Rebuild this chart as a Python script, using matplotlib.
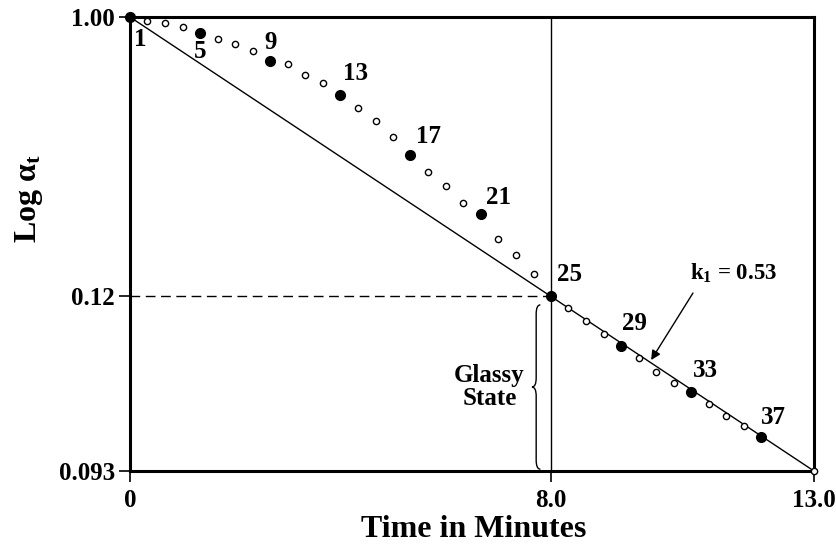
import numpy as np
import matplotlib.pyplot as plt
from matplotlib.path import Path
from matplotlib.patches import PathPatch

# time (minutes) of the numbered points 1..37
t = [0.00, 0.33, 0.67, 1.00, 1.33, 1.67, 2.00, 2.33, 2.67, 3.00,
     3.33, 3.67, 4.00, 4.33, 4.67, 5.00, 5.33, 5.67, 6.00, 6.33,
     6.67, 7.00, 7.33, 7.67, 8.00, 8.33, 8.67, 9.00, 9.33, 9.67,
     10.00, 10.33, 10.67, 11.00, 11.33, 11.67, 12.00]
# position on the (schematic) log axis, 1 = top, 0 = bottom
v = [1.000, 0.991, 0.987, 0.978, 0.965, 0.952, 0.941, 0.925, 0.903, 0.896,
     0.872, 0.855, 0.828, 0.800, 0.771, 0.736, 0.696, 0.659, 0.628, 0.590,
     0.566, 0.511, 0.476, 0.434, 0.385, 0.359, 0.330, 0.302, 0.275, 0.249,
     0.218, 0.194, 0.174, 0.148, 0.121, 0.099, 0.075]
num = list(range(1, 38))
labelled = [1, 5, 9, 13, 17, 21, 25, 29, 33, 37]
# label offsets in pixels
lab_dx = [10, 0, 0, 15, 18, 18, 19, 14, 14, 12]
lab_dy = [-22, -19, 19, 22, 19, 17, 22, 23, 22, 19]

end_t, end_v = 13.0, 0.0
fit_t = [0.0, 13.0]
fit_v = [1.0, 0.0]
tg, vg = 8.0, 0.385

yticks = [1.0, 0.385, 0.0]
ylabels = ['1.00', '0.12', '0.093']
xticks = [0, 8.0, 13.0]
xlabels = ['0', '8.0', '13.0']

plt.rcParams['font.family'] = ['Liberation Serif', 'DejaVu Serif']
plt.rcParams['font.weight'] = 'bold'
plt.rcParams['mathtext.fontset'] = 'custom'
plt.rcParams['mathtext.rm'] = 'Liberation Serif:bold'
plt.rcParams['mathtext.it'] = 'Liberation Serif:bold'
plt.rcParams['mathtext.bf'] = 'Liberation Serif:bold'

fig = plt.figure(figsize=(8.37, 5.47), dpi=100)
ax = fig.add_axes([0.1553, 0.1389, 0.8172, 0.83])

ax.plot(fit_t, fit_v, color='black', lw=1.0, zorder=2)
ax.plot([0, tg], [vg, vg], color='black', lw=1.0, dashes=(7, 4), zorder=2)
ax.axvline(tg, color='black', lw=1.0, zorder=2)

filled = [n in labelled for n in num]
tf = [a for a, f in zip(t, filled) if f]
vf = [b for b, f in zip(v, filled) if f]
to = [a for a, f in zip(t, filled) if not f] + [end_t]
vo = [b for b, f in zip(v, filled) if not f] + [end_v]
ax.plot(to, vo, 'o', ms=4.5, mfc='white', mec='black', mew=1.0,
        clip_on=False, zorder=4)
ax.plot(tf, vf, 'o', ms=7, color='black', clip_on=False, zorder=5)

for n, dx, dy in zip(labelled, lab_dx, lab_dy):
    i = num.index(n)
    ax.annotate(str(n), (t[i], v[i]), xytext=(dx, dy),
                textcoords='offset pixels', ha='center', va='center',
                fontsize=18, fontweight='bold')

# curly brace for the glassy state
def brace(x, y0, y1, w, d):
    ym = (y0 + y1) / 2
    xs = x - w / 2
    xt = x - w
    verts = [(x, y1), (xs, y1), (xs, y1 - d),
             (xs, ym + d),
             (xs, ym), (xt, ym),
             (xs, ym), (xs, ym - d),
             (xs, y0 + d),
             (xs, y0), (x, y0)]
    codes = [Path.MOVETO, Path.CURVE3, Path.CURVE3,
             Path.LINETO,
             Path.CURVE3, Path.CURVE3,
             Path.CURVE3, Path.CURVE3,
             Path.LINETO,
             Path.CURVE3, Path.CURVE3]
    ax.add_patch(PathPatch(Path(verts, codes), fill=False, lw=1.0,
                           color='black', zorder=3))

brace(7.80, 0.004, 0.366, 0.16, 0.02)
ax.text(6.83, 0.185, 'Glassy\nState', ha='center', va='center',
        fontsize=18, fontweight='bold', linespacing=0.95)

ax.annotate('', xy=(9.905, 0.2445), xytext=(10.70, 0.392),
            arrowprops=dict(arrowstyle='-|>', color='black', lw=1.0,
                            mutation_scale=14, shrinkA=0, shrinkB=0))
ax.text(11.48, 0.436, r'k$_1$ = 0.53', ha='center', va='center',
        fontsize=16.5, fontweight='bold')

ax.set_xlim(0, 13)
ax.set_ylim(0, 1)
ax.set_xticks(xticks)
ax.set_xticklabels(xlabels)
ax.set_yticks(yticks)
ax.set_yticklabels(ylabels)
ax.tick_params(direction='out', length=8, width=1.2, labelsize=18)
ax.tick_params(axis='y', pad=3)
ax.tick_params(axis='x', pad=5)
for s in ax.spines.values():
    s.set_linewidth(2.2)

fig.text(474 / 837, 1 - 537 / 547, 'Time in Minutes', ha='center',
         va='baseline', fontsize=23, fontweight='bold')
fig.text(29 / 837, 1 - 199 / 547, r'Log $\alpha_\mathrm{t}$', ha='center',
         va='center', rotation=90, fontsize=23, fontweight='bold')

plt.savefig('out.png', dpi=100)
